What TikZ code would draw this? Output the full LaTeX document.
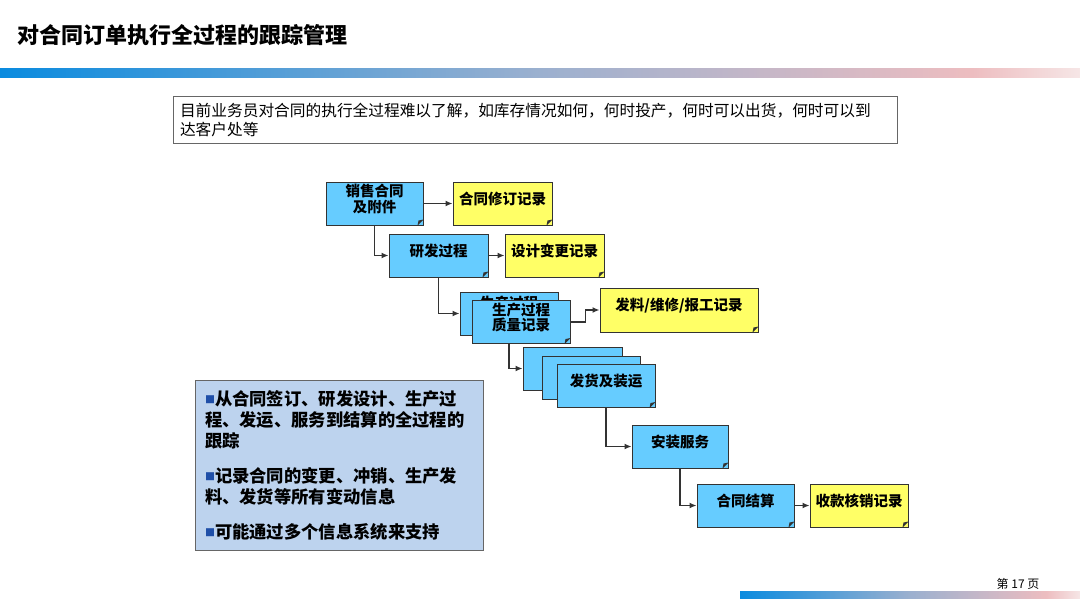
\documentclass[tikz,border=0pt]{standalone}
\usepackage{fontspec}
\setmainfont{Noto Sans CJK SC}
\usetikzlibrary{shapes.misc,arrows.meta,calc}
\definecolor{procblue}{HTML}{66CCFF}
\definecolor{recyellow}{HTML}{FFFF66}
\definecolor{infoblue}{HTML}{BDD3EE}
\definecolor{edgegray}{HTML}{333333}
\definecolor{notegray}{HTML}{666666}
\definecolor{bulletblue}{HTML}{1F4FA8}
\definecolor{barblue}{HTML}{0A8BDF}
\definecolor{barmid}{HTML}{9BB0CF}
\definecolor{barpink}{HTML}{EDBDC0}
\definecolor{barlight}{HTML}{F6E6E6}
\pgfdeclarehorizontalshading{barshade}{100bp}{color(0bp)=(barblue); color(25bp)=(barblue); color(50bp)=(barmid); color(70bp)=(barpink); color(75bp)=(barlight); color(100bp)=(barlight)}

\tikzset{
  flowbox/.style={chamfered rectangle, chamfered rectangle corners=south east,
    chamfered rectangle xsep=6pt, chamfered rectangle ysep=6pt,
    draw=edgegray, line width=1pt, fill=procblue,
    minimum width=97pt, minimum height=43pt, inner sep=0pt},
  recbox/.style={flowbox, fill=recyellow},
  boxtext/.style={font=\fontsize{14.5}{15.5}\selectfont\bfseries, align=center, yshift=4.5pt},
  link/.style={draw=edgegray, line width=1.3pt, -{Latex[length=7pt,width=6pt]}},
}
\newcommand{\flap}[1]{\fill[edgegray] ($(#1.south -| #1.east)+(-6pt,0)$) -- ($(#1.south -| #1.east)+(0,6pt)$) -- ($(#1.south -| #1.east)+(-5pt,5pt)$) -- cycle;}
\newcommand{\bul}{\raisebox{2pt}{\fontsize{10}{10}\selectfont\textcolor{bulletblue}{■}}}

\begin{document}
\begin{tikzpicture}[x=1pt,y=-1pt]
  \useasboundingbox (0,0) rectangle (1080,608);
  % header and footer
  \node[anchor=west, inner sep=0pt, font=\fontsize{22}{26}\selectfont\bfseries] (title) at (17,35) {对合同订单执行全过程的跟踪管理};
  \shade[shading=barshade] (0,68) rectangle (1080,77);
  \shade[shading=barshade] (740,591) rectangle (1080,598);
  \node[inner sep=0pt, font=\fontsize{12}{14}\selectfont] (page) at (1018,584) {第 17 页};
  % problem statement
  \node[draw=notegray, line width=0.8pt, fill=white, minimum width=724pt, minimum height=47pt,
    text width=710pt, inner xsep=7pt, inner ysep=0pt, align=left,
    font=\fontsize{15.7}{19}\selectfont] (note) at (535,119.5)
    {目前业务员对合同的执行全过程难以了解，如库存情况如何，何时投产，何时可以出货，何时可以到\\达客户处等};
  % process chain
  \node[flowbox, label={[boxtext]center:销售合同\\及附件}] (sale) at (374.5,203.5) {}; \flap{sale}
  \node[recbox, minimum width=99pt, label={[boxtext]center:合同修订记录}] (rev) at (502.5,203.5) {}; \flap{rev}
  \node[flowbox, minimum width=99pt, label={[boxtext]center:研发过程}] (rd) at (438.5,255.5) {}; \flap{rd}
  \node[recbox, minimum width=99pt, label={[boxtext]center:设计变更记录}] (des) at (554.5,255.5) {}; \flap{des}
  \node[flowbox, minimum width=98pt, label={[boxtext,yshift=6pt]center:生产过程}] (prodback) at (509,313.5) {}; \flap{prodback}
  \node[flowbox, minimum width=98pt, label={[boxtext]center:生产过程\\质量记录}] (prod) at (521,322) {}; \flap{prod}
  \node[recbox, minimum width=158pt, minimum height=44pt, label={[boxtext]center:发料/维修/报工记录}] (mat) at (679,310) {}; \flap{mat}
  \node[flowbox, minimum width=99pt] (shipA) at (572.5,368.5) {}; \flap{shipA}
  \node[flowbox, minimum width=98pt] (shipB) at (591,377.5) {}; \flap{shipB}
  \node[flowbox, minimum width=98pt, label={[boxtext]center:发货及装运}] (ship) at (606,386) {}; \flap{ship}
  \node[flowbox, minimum width=96pt, label={[boxtext]center:安装服务}] (inst) at (680,446.5) {}; \flap{inst}
  \node[flowbox, label={[boxtext]center:合同结算}] (settle) at (745.5,505.5) {}; \flap{settle}
  \node[recbox, minimum width=98pt, label={[boxtext]center:收款核销记录}] (pay) at (859,505.5) {}; \flap{pay}
  % connectors
  \draw[link] (sale.east) -- (rev.west);
  \draw[link] (sale.south) |- (rd.west);
  \draw[link] (rd.east) -- (des.west);
  \draw[link] (rd.south) |- (prodback.west);
  \draw[link] (prod.east) -- ++(15,0) |- (mat.west);
  \draw[link] (prodback.south |- prod.south) |- (shipA.west);
  \draw[link] (ship.south) |- (inst.west);
  \draw[link] (inst.south) |- (settle.west);
  \draw[link] (settle.east) -- (pay.west);
  % summary
  \node[draw=notegray, line width=0.8pt, fill=infoblue, minimum width=288pt, minimum height=170pt,
    text width=268pt, inner xsep=10pt, inner ysep=0pt, align=left,
    font=\fontsize{17.3}{21}\selectfont\bfseries] (info) at (339,465)
    {\bul 从合同签订、研发设计、生产过\\
     程、发运、服务到结算的全过程的\\
     跟踪\\[14pt]
     \bul 记录合同的变更、冲销、生产发\\
     料、发货等所有变动信息\\[14pt]
     \bul 可能通过多个信息系统来支持};
\end{tikzpicture}
\end{document}
